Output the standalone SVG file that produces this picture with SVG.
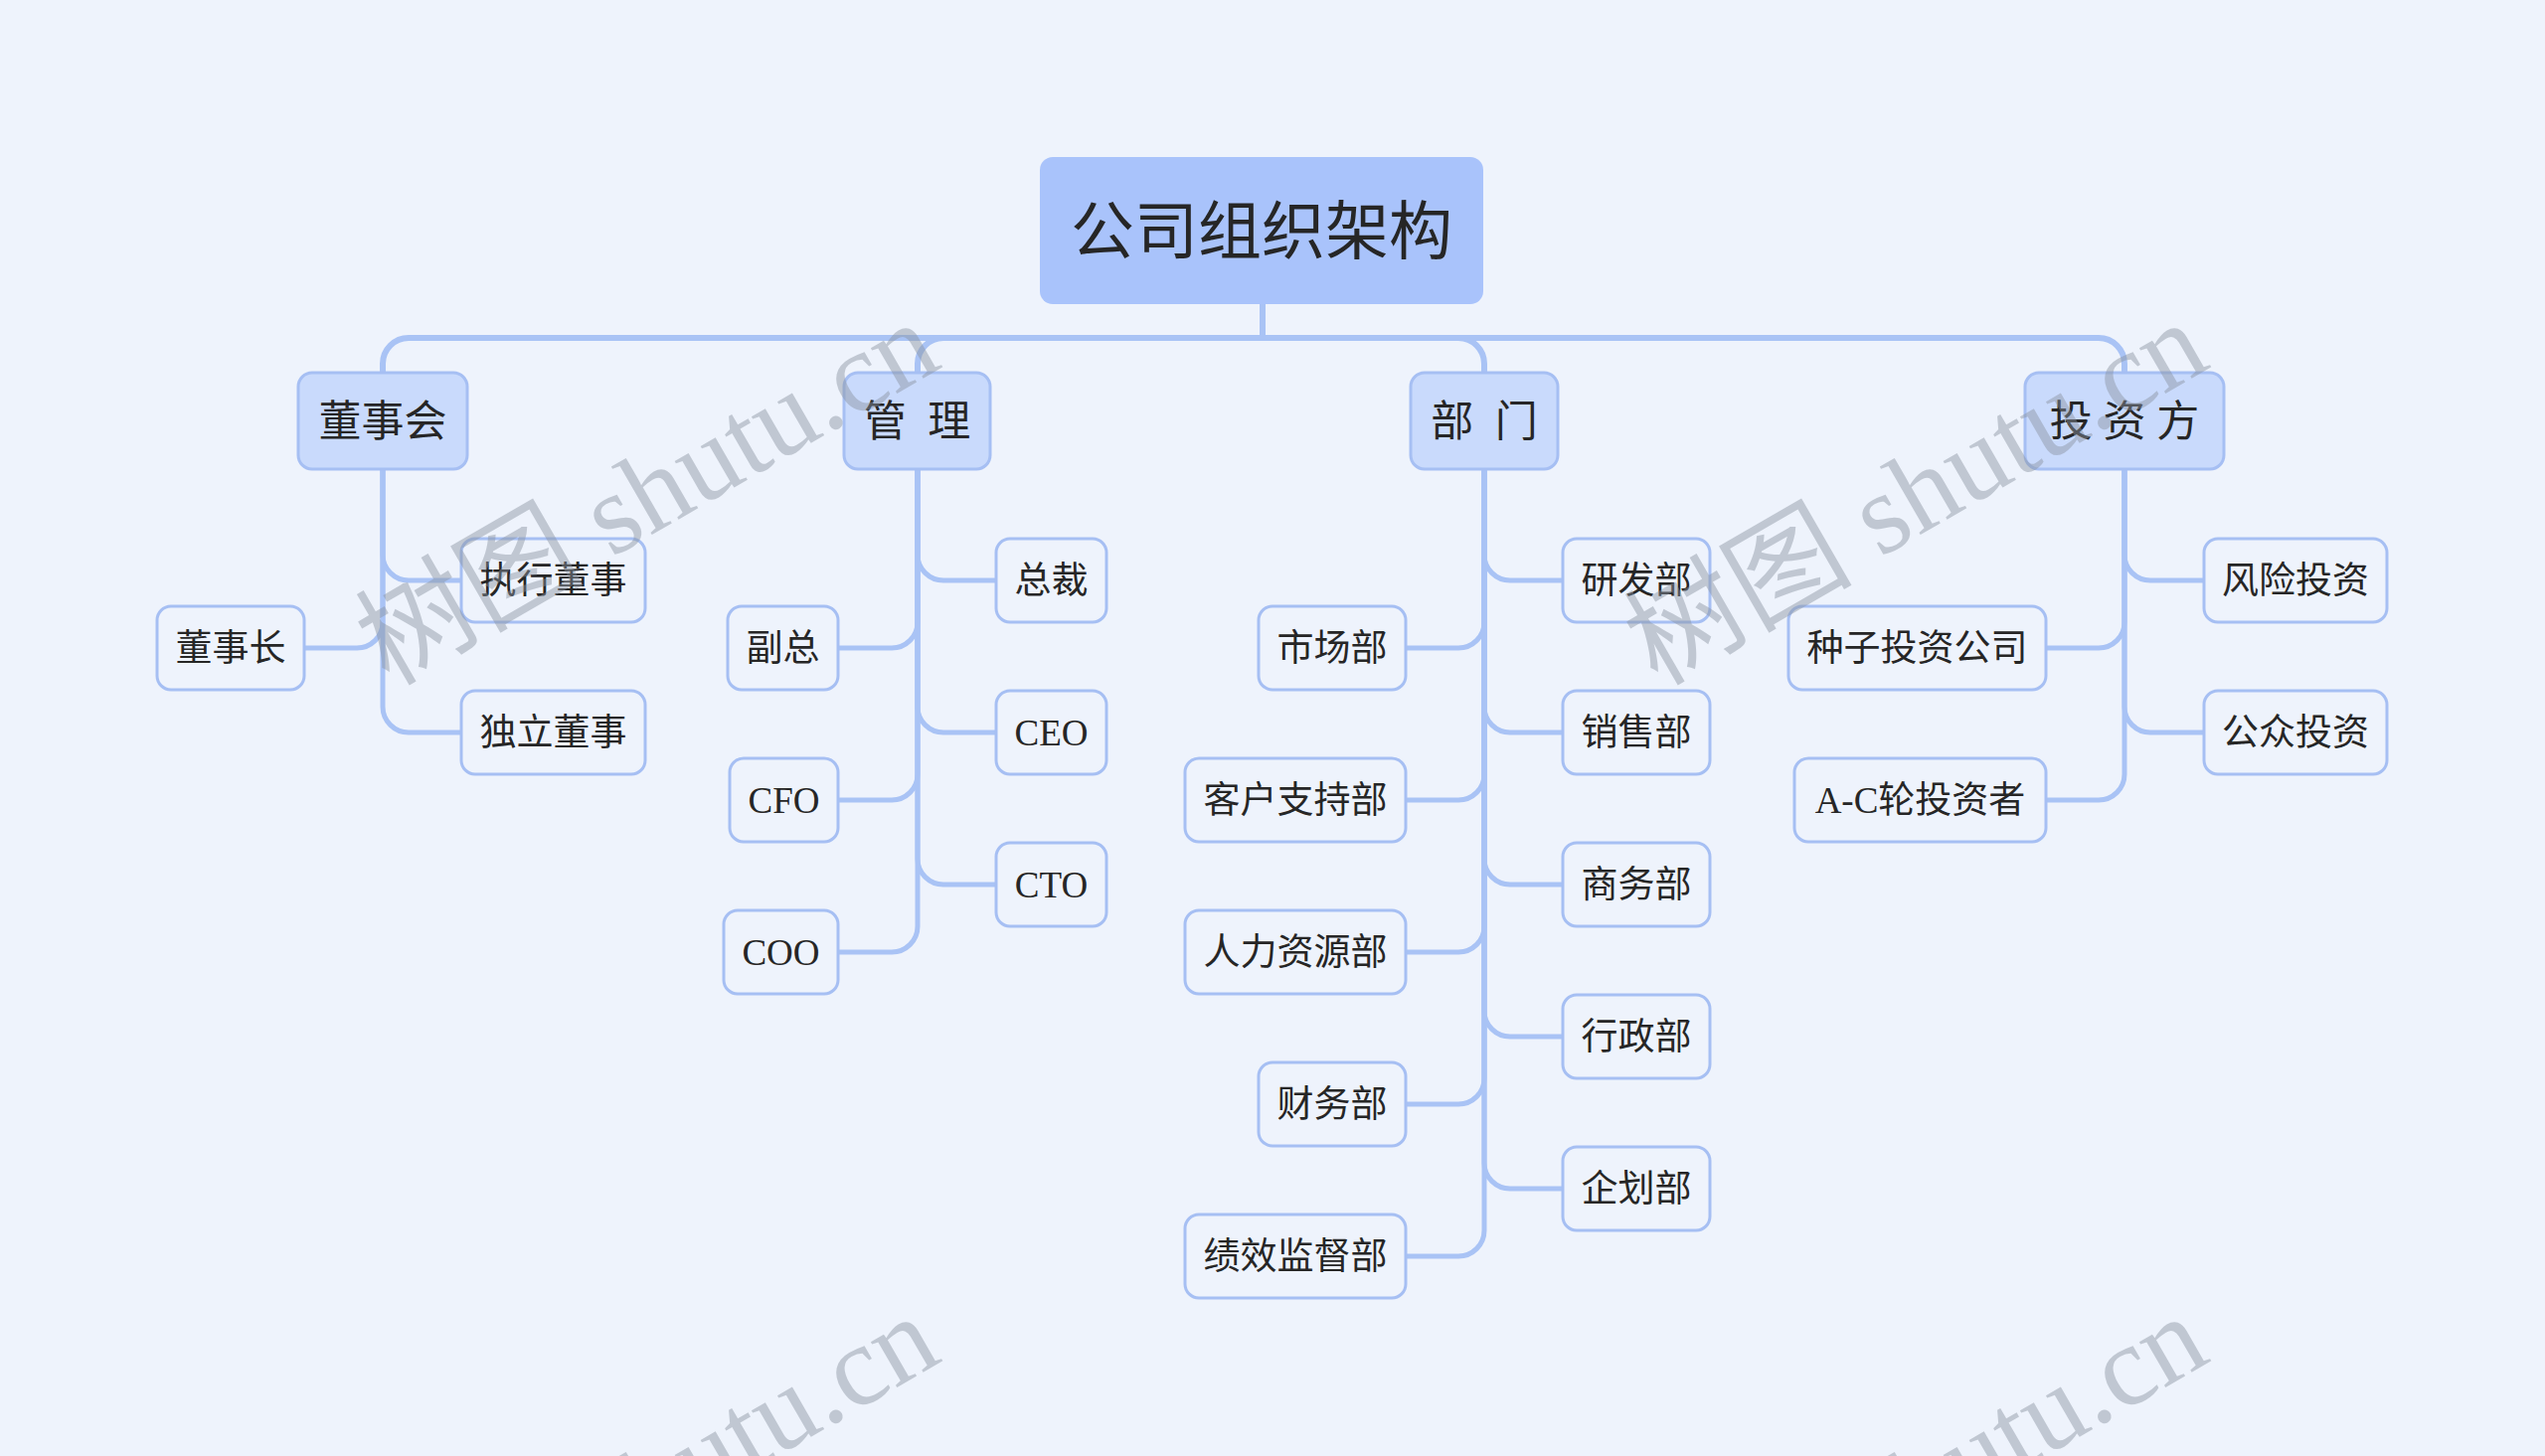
<svg xmlns="http://www.w3.org/2000/svg" width="2560" height="1465" viewBox="0 0 2560 1465">
<style>
.bg{fill:#EEF3FC}
.root rect{fill:#A9C3FB}
.l1 rect{fill:#C9DAFC;stroke:#A6BFF3;stroke-width:3}
.l2 rect{fill:#EEF3FC;stroke:#A6BFF3;stroke-width:3}
text{font-family:"Liberation Serif","Noto Sans CJK SC",serif;fill:#262626;text-anchor:middle;white-space:pre}
.root text{font-size:64px}
.l1 text{font-size:43px}
.l2 text{font-size:37px}
.c1{fill:none;stroke:#A9C3F5;stroke-width:6}
.c2{fill:none;stroke:#A9C3F5;stroke-width:5}
.wm{font-family:"Liberation Serif","Noto Sans CJK SC",serif;font-size:115px;fill:#8A93A0;opacity:0.45;text-anchor:start}
</style>
<rect class="bg" x="0" y="0" width="2560" height="1465"/>

<g id="connectors">
  <!-- root to level 1 -->
  <path class="c1" d="M1270 306 V340 H411 A26 26 0 0 0 385 366 V375"/>
  <path class="c1" d="M1270 306 V340 H949 A26 26 0 0 0 923 366 V375"/>
  <path class="c1" d="M1270 306 V340 H1467 A26 26 0 0 1 1493 366 V375"/>
  <path class="c1" d="M1270 306 V340 H2111 A26 26 0 0 1 2137 366 V375"/>
  <!-- 董事会 -->
  <path class="c2" d="M385 472 V558 A26 26 0 0 0 411 584 H464"/>
  <path class="c2" d="M385 472 V711 A26 26 0 0 0 411 737 H464"/>
  <path class="c2" d="M385 472 V626 A26 26 0 0 1 359 652 H306"/>
  <!-- 管理 -->
  <path class="c2" d="M923 472 V558 A26 26 0 0 0 949 584 H1002"/>
  <path class="c2" d="M923 472 V711 A26 26 0 0 0 949 737 H1002"/>
  <path class="c2" d="M923 472 V864 A26 26 0 0 0 949 890 H1002"/>
  <path class="c2" d="M923 472 V626 A26 26 0 0 1 897 652 H843"/>
  <path class="c2" d="M923 472 V779 A26 26 0 0 1 897 805 H843"/>
  <path class="c2" d="M923 472 V932 A26 26 0 0 1 897 958 H843"/>
  <!-- 部门 -->
  <path class="c2" d="M1493 472 V558 A26 26 0 0 0 1519 584 H1572"/>
  <path class="c2" d="M1493 472 V711 A26 26 0 0 0 1519 737 H1572"/>
  <path class="c2" d="M1493 472 V864 A26 26 0 0 0 1519 890 H1572"/>
  <path class="c2" d="M1493 472 V1017 A26 26 0 0 0 1519 1043 H1572"/>
  <path class="c2" d="M1493 472 V1170 A26 26 0 0 0 1519 1196 H1572"/>
  <path class="c2" d="M1493 472 V626 A26 26 0 0 1 1467 652 H1414"/>
  <path class="c2" d="M1493 472 V779 A26 26 0 0 1 1467 805 H1414"/>
  <path class="c2" d="M1493 472 V932 A26 26 0 0 1 1467 958 H1414"/>
  <path class="c2" d="M1493 472 V1085 A26 26 0 0 1 1467 1111 H1414"/>
  <path class="c2" d="M1493 472 V1238 A26 26 0 0 1 1467 1264 H1414"/>
  <!-- 投资方 -->
  <path class="c2" d="M2137 472 V558 A26 26 0 0 0 2163 584 H2217"/>
  <path class="c2" d="M2137 472 V711 A26 26 0 0 0 2163 737 H2217"/>
  <path class="c2" d="M2137 472 V626 A26 26 0 0 1 2111 652 H2058"/>
  <path class="c2" d="M2137 472 V779 A26 26 0 0 1 2111 805 H2058"/>
</g>

<g id="root" class="root"><rect x="1046" y="158" width="446" height="148" rx="13"/><text x="1269" y="255">公司组织架构</text></g>

<g id="n-dongshihui" class="l1"><rect x="300" y="375" width="170" height="97" rx="14"/><text x="385" y="439">董事会</text></g>
<g id="n-guanli" class="l1"><rect x="849" y="375" width="147" height="97" rx="14"/><text x="922.5" y="439" xml:space="preserve">管  理</text></g>
<g id="n-bumen" class="l1"><rect x="1419" y="375" width="148" height="97" rx="14"/><text x="1493" y="439" xml:space="preserve">部  门</text></g>
<g id="n-touzifang" class="l1"><rect x="2037" y="375" width="200" height="97" rx="14"/><text x="2137" y="439" xml:space="preserve">投 资 方</text></g>

<g id="n-zhixingdongshi" class="l2"><rect x="464" y="542" width="185" height="84" rx="14"/><text x="556.5" y="597">执行董事</text></g>
<g id="n-dulidongshi" class="l2"><rect x="464" y="695" width="185" height="84" rx="14"/><text x="556.5" y="750">独立董事</text></g>
<g id="n-dongshizhang" class="l2"><rect x="158" y="610" width="148" height="84" rx="14"/><text x="232" y="665">董事长</text></g>

<g id="n-zongcai" class="l2"><rect x="1002" y="542" width="111" height="84" rx="14"/><text x="1057.5" y="597">总裁</text></g>
<g id="n-ceo" class="l2"><rect x="1002" y="695" width="111" height="84" rx="14"/><text x="1057.5" y="750">CEO</text></g>
<g id="n-cto" class="l2"><rect x="1002" y="848" width="111" height="84" rx="14"/><text x="1057.5" y="903">CTO</text></g>
<g id="n-fuzong" class="l2"><rect x="732" y="610" width="111" height="84" rx="14"/><text x="787.5" y="665">副总</text></g>
<g id="n-cfo" class="l2"><rect x="734" y="763" width="109" height="84" rx="14"/><text x="788.5" y="818">CFO</text></g>
<g id="n-coo" class="l2"><rect x="728" y="916" width="115" height="84" rx="14"/><text x="785.5" y="971">COO</text></g>

<g id="n-yanfa" class="l2"><rect x="1572" y="542" width="148" height="84" rx="14"/><text x="1646" y="597">研发部</text></g>
<g id="n-xiaoshou" class="l2"><rect x="1572" y="695" width="148" height="84" rx="14"/><text x="1646" y="750">销售部</text></g>
<g id="n-shangwu" class="l2"><rect x="1572" y="848" width="148" height="84" rx="14"/><text x="1646" y="903">商务部</text></g>
<g id="n-xingzheng" class="l2"><rect x="1572" y="1001" width="148" height="84" rx="14"/><text x="1646" y="1056">行政部</text></g>
<g id="n-qihua" class="l2"><rect x="1572" y="1154" width="148" height="84" rx="14"/><text x="1646" y="1209">企划部</text></g>
<g id="n-shichang" class="l2"><rect x="1266" y="610" width="148" height="84" rx="14"/><text x="1340" y="665">市场部</text></g>
<g id="n-kehu" class="l2"><rect x="1192" y="763" width="222" height="84" rx="14"/><text x="1303" y="818">客户支持部</text></g>
<g id="n-renli" class="l2"><rect x="1192" y="916" width="222" height="84" rx="14"/><text x="1303" y="971">人力资源部</text></g>
<g id="n-caiwu" class="l2"><rect x="1266" y="1069" width="148" height="84" rx="14"/><text x="1340" y="1124">财务部</text></g>
<g id="n-jixiao" class="l2"><rect x="1192" y="1222" width="222" height="84" rx="14"/><text x="1303" y="1277">绩效监督部</text></g>

<g id="n-fengxian" class="l2"><rect x="2217" y="542" width="184" height="84" rx="14"/><text x="2309" y="597">风险投资</text></g>
<g id="n-gongzhong" class="l2"><rect x="2217" y="695" width="184" height="84" rx="14"/><text x="2309" y="750">公众投资</text></g>
<g id="n-zhongzi" class="l2"><rect x="1799" y="610" width="259" height="84" rx="14"/><text x="1928.5" y="665">种子投资公司</text></g>
<g id="n-ac" class="l2"><rect x="1805" y="763" width="253" height="84" rx="14"/><text x="1931.5" y="818">A-C轮投资者</text></g>

<g id="watermarks">
  <text class="wm" x="391" y="691" transform="rotate(-30 391 691)">树图 shutu.cn</text>
  <text class="wm" x="1667" y="691" transform="rotate(-30 1667 691)">树图 shutu.cn</text>
  <text class="wm" x="391" y="1691" transform="rotate(-30 391 1691)">树图 shutu.cn</text>
  <text class="wm" x="1667" y="1691" transform="rotate(-30 1667 1691)">树图 shutu.cn</text>
</g>
</svg>
